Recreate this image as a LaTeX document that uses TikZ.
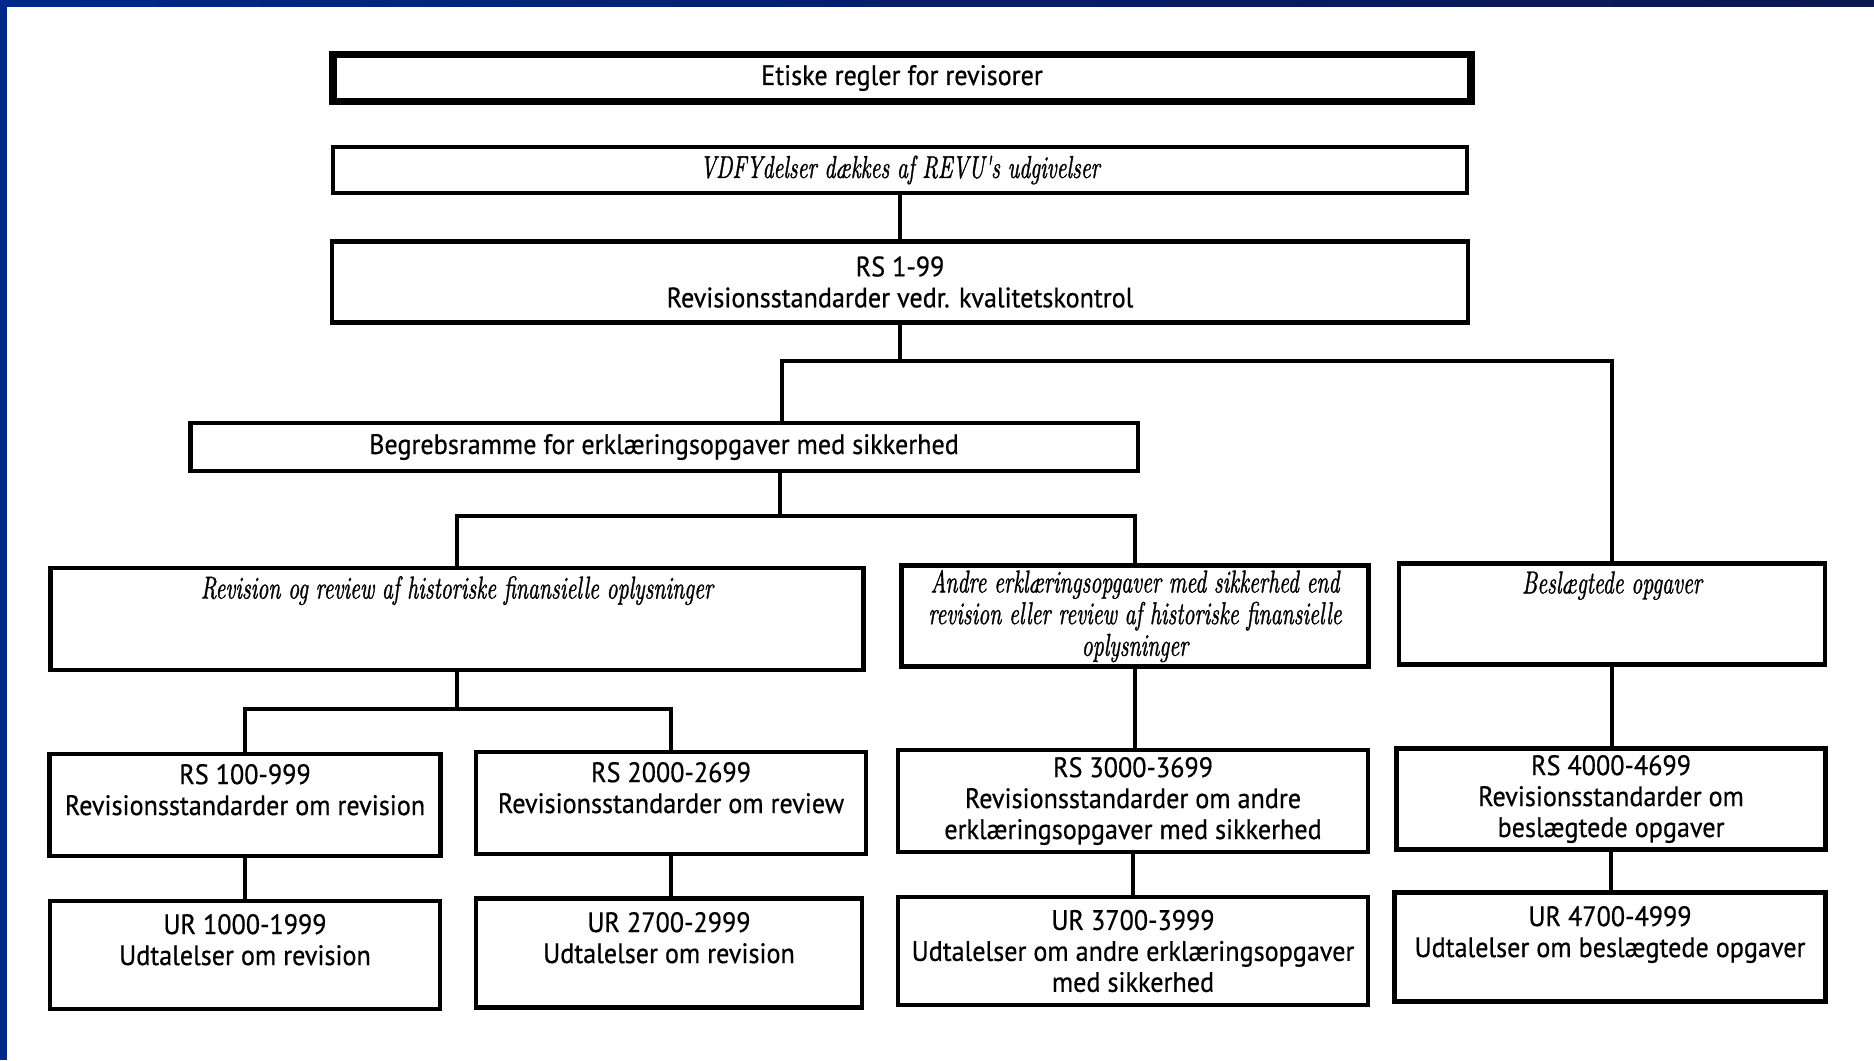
\documentclass[tikz,border=0pt]{standalone}
\usepackage{fontspec}
\setsansfont[FakeStretch=0.93, FakeBold=0.6]{PT Sans}
\newfontfamily\garait[FakeStretch=0.68, FakeBold=1]{lmroman10-italic.otf}
\definecolor{rammeBlaa}{RGB}{0,40,140}
\definecolor{rammeNavy}{RGB}{12,22,80}

\begin{document}
\begin{tikzpicture}[x=0.01cm, y=-0.01cm,
      boks/.style={rectangle, draw=black, line width=1.3pt, align=center, inner sep=0pt,
        font=\sffamily\fontsize{8}{8.8}\selectfont},
      kursiv/.style={font=\garait\fontsize{9}{9}\selectfont},
      linje/.style={line width=1pt}]
    \useasboundingbox (0,0) rectangle (1874,1060);
    \fill[rammeBlaa] (0,0) rectangle (7,1060);
    \shade[left color=rammeBlaa, right color=rammeNavy] (0,0) rectangle (1874,6);
    % top
    \node[boks, line width=2.2pt, minimum width=11.37cm, minimum height=0.47cm] (etiske) at (902,78) {Etiske regler for revisorer};
    \node[boks, kursiv, minimum width=11.33cm, minimum height=0.46cm] (vdfy) at (900,170) {VDFYdelser dækkes af REVU's udgivelser};
    \node[boks, minimum width=11.35cm, minimum height=0.81cm] (rs1) at (900,282) {RS 1-99\\Revisionsstandarder vedr. kvalitetskontrol};
    \node[boks, minimum width=9.47cm, minimum height=0.48cm] (begreb) at (664,447) {Begrebsramme for erklæringsopgaver med sikkerhed};
    % opgavetyper
    \node[boks, kursiv, minimum width=8.13cm, minimum height=1.02cm] (revrev) at (457,619) {Revision og review af historiske finansielle oplysninger\\\mbox{}\\\mbox{}};
    \node[boks, kursiv, minimum width=4.67cm, minimum height=1.01cm] (andre) at (1135,616) {Andre erklæringsopgaver med sikkerhed end\\revision eller review af historiske finansielle\\oplysninger};
    \node[boks, kursiv, minimum width=4.26cm, minimum height=1.01cm] (besl) at (1612,614) {Beslægtede opgaver\\\mbox{}\\\mbox{}};
    % standarder
    \node[boks, minimum width=3.91cm, minimum height=1.02cm] (rs100) at (245,805) {RS 100-999\\Revisionsstandarder om revision\\\mbox{}};
    \node[boks, minimum width=3.90cm, minimum height=1.02cm] (rs2000) at (671,803) {RS 2000-2699\\Revisionsstandarder om review\\\mbox{}};
    \node[boks, minimum width=4.70cm, minimum height=1.02cm] (rs3000) at (1133,801) {RS 3000-3699\\Revisionsstandarder om andre\\erklæringsopgaver med sikkerhed};
    \node[boks, minimum width=4.29cm, minimum height=1.01cm] (rs4000) at (1611,799) {RS 4000-4699\\Revisionsstandarder om\\beslægtede opgaver};
    % udtalelser
    \node[boks, minimum width=3.90cm, minimum height=1.08cm] (ur1000) at (245,955) {UR 1000-1999\\Udtalelser om revision\\\mbox{}};
    \node[boks, minimum width=3.86cm, minimum height=1.09cm] (ur2700) at (669,953) {UR 2700-2999\\Udtalelser om revision\\\mbox{}};
    \node[boks, minimum width=4.70cm, minimum height=1.08cm] (ur3700) at (1133,951) {UR 3700-3999\\Udtalelser om andre erklæringsopgaver\\med sikkerhed};
    \node[boks, minimum width=4.31cm, minimum height=1.09cm] (ur4700) at (1610,947) {UR 4700-4999\\Udtalelser om beslægtede opgaver\\\mbox{}};
    % forbindelser
    \coordinate (bus1) at (782,361);
    \coordinate (bus2) at (780,516);
    \coordinate (bus3) at (460,709);
    \draw[linje] (vdfy.south) -- (vdfy.south |- rs1.north);
    \draw[linje] (rs1.south) -- (rs1.south |- bus1); \draw[linje] (bus1 |- begreb.north) -- (bus1) -| (besl.north);
    \draw[linje] (bus2 |- begreb.south) -- (bus2); \draw[linje] (revrev.north) |- (bus2) -| (andre.north);
    \draw[linje] (revrev.south) -- (revrev.south |- bus3); \draw[linje] (rs100.north) |- (bus3) -| (rs2000.north);
    \draw[linje] (rs100.south) -- (rs100.south |- ur1000.north); \draw[linje] (rs2000.south) -- (rs2000.south |- ur2700.north);
    \draw[linje] (andre.south) -- (andre.south |- rs3000.north); \draw[linje] (rs3000.south) -- (rs3000.south |- ur3700.north);
    \draw[linje] (besl.south) -- (besl.south |- rs4000.north); \draw[linje] (rs4000.south) -- (rs4000.south |- ur4700.north);
  \end{tikzpicture}
\end{document}
